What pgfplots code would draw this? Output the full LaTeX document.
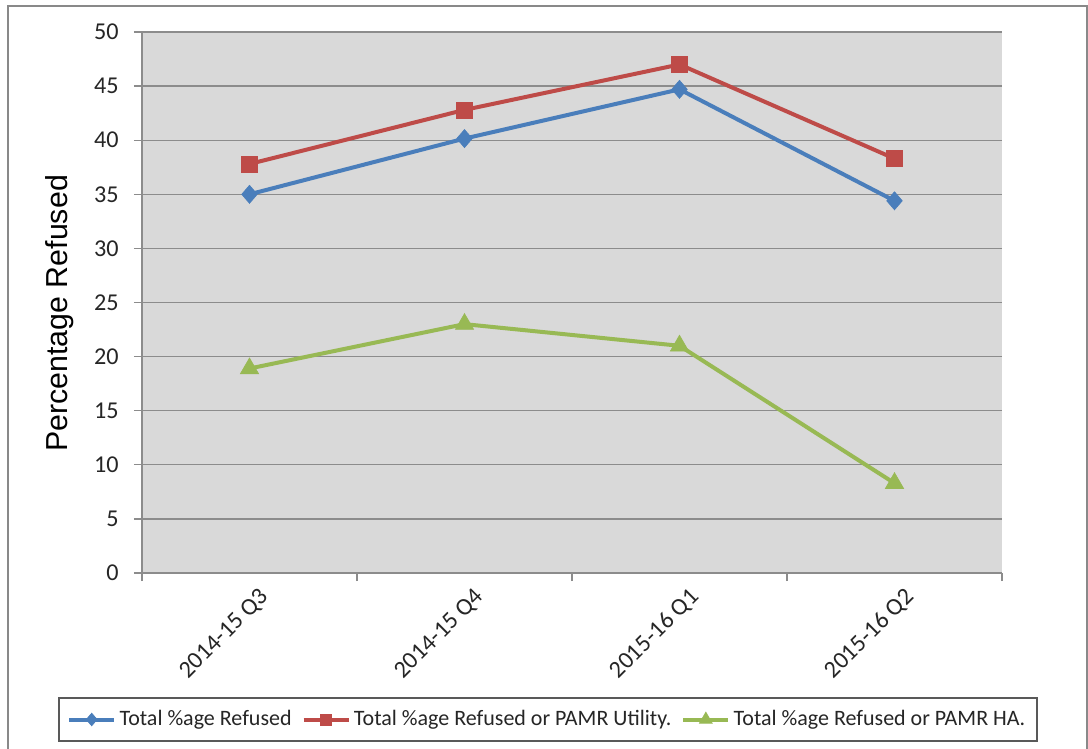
\documentclass[border=0pt]{standalone}
\usepackage{pgfplots}
\pgfplotsset{compat=1.18}
\usepackage{fontspec}
\setmainfont{Carlito}
\newfontfamily\arialfont{Liberation Sans}

\definecolor{sblue}{HTML}{4A7EBB}
\definecolor{sred}{HTML}{BE4B48}
\definecolor{sgreen}{HTML}{98B954}
\definecolor{plotbg}{HTML}{D9D9D9}
\definecolor{gridc}{HTML}{8C8C8C}
\definecolor{framec}{HTML}{898989}

\begin{document}
\begin{tikzpicture}
\useasboundingbox (-85.2pt,-105.6pt) rectangle (567.6pt,343.8pt);
\fill[white] (-85.2pt,-105.6pt) rectangle (567.6pt,343.8pt);
\begin{axis}[
  scale only axis,
  width=516pt, height=324.6pt,
  xmin=-0.5, xmax=3.5, ymin=0, ymax=50,
  ytick={0,5,...,50},
  xtick={0,1,2,3},
  xticklabels={2014-15 Q3,2014-15 Q4,2015-16 Q1,2015-16 Q2},
  xtick style={draw=none},
  extra x ticks={-0.5,0.5,1.5,2.5,3.5},
  extra x tick labels={},
  extra x tick style={grid=none, xtick style={draw=gridc, line width=0.8pt}},
  axis background/.style={fill=plotbg},
  ymajorgrids,
  grid style={gridc, line width=0.8pt},
  axis x line*=bottom, axis y line*=left,
  axis line style={gridc, line width=0.8pt},
  tick align=outside,
  major tick length=4.8pt,
  ytick style={gridc, line width=0.8pt},
  tick label style={font=\fontsize{14.5}{16}\selectfont, text=black!85},
  /pgf/number format/assume math mode=true,
  xticklabel style={rotate=45, anchor=north east, inner sep=0pt, xshift=1.5pt, yshift=-6pt},
  yticklabel style={inner sep=0pt, xshift=-9pt},
  ylabel={Percentage Refused},
  ylabel style={font=\fontsize{18.2}{20}\selectfont\arialfont, at={(axis description cs:-0.0953,0.48)}, anchor=center},
  legend style={at={(axis description cs:0.472,-0.2708)}, anchor=center,
    legend columns=-1, draw=black!65, line width=0.8pt,
    font=\fontsize{13.2}{15}\selectfont, text=black!85,
    inner xsep=5pt, inner ysep=5.5pt,
    /tikz/every even column/.append style={column sep=4pt}},
  legend image code/.code={
    \draw[mark repeat=2, mark phase=2, #1, every mark/.append style={scale=0.7}]
      plot coordinates {(0pt,0pt) (13.5pt,0pt) (27pt,0pt)};
  },
]
\addplot[sblue, line width=2.4pt, mark=diamond*, mark size=5.4pt,
  mark options={solid, fill=sblue, line width=0.4pt, xscale=1.15}]
  coordinates {(0,35.0) (1,40.15) (2,44.7) (3,34.4)};
\addlegendentry{Total \%age Refused}
\addplot[sred, line width=2.4pt, mark=square*, mark size=4.8pt,
  mark options={solid, fill=sred, line width=0.4pt}]
  coordinates {(0,37.8) (1,42.8) (2,47.0) (3,38.3)};
\addlegendentry{Total \%age Refused or PAMR Utility.}
\addplot[sgreen, line width=2.4pt, mark=triangle*, mark size=6.3pt,
  mark options={solid, fill=sgreen, line width=0.4pt}]
  coordinates {(0,18.9) (1,23.0) (2,21.0) (3,8.3)};
\addlegendentry{Total \%age Refused or PAMR HA.}
\end{axis}
% outer chart frame
\draw[framec, line width=1.2pt] (-80.4pt,-110pt) -- (-80.4pt,340.2pt) -- (566.7pt,340.2pt) -- (566.7pt,-110pt);
\end{tikzpicture}
\end{document}
